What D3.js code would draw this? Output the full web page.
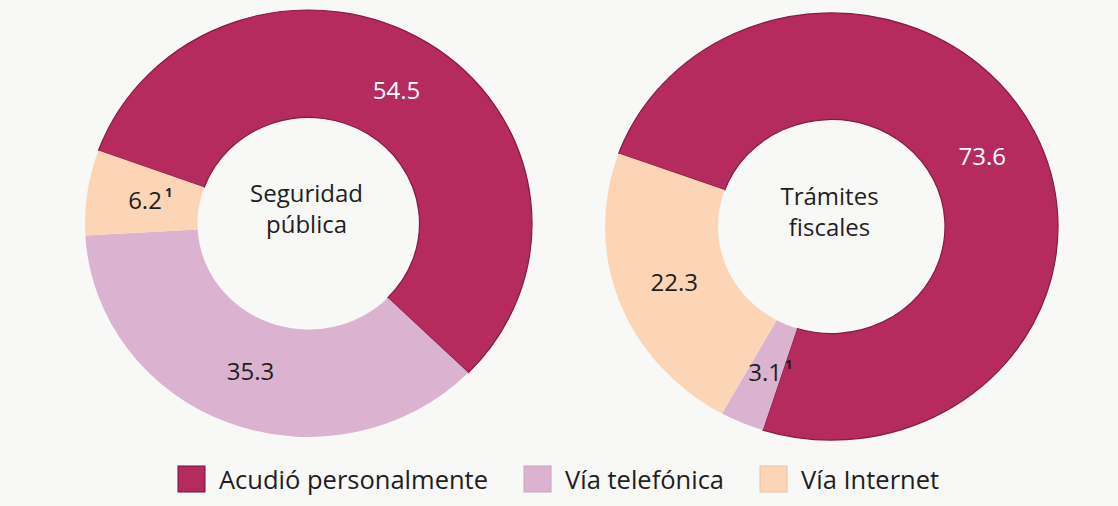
<!DOCTYPE html>
<html>
<head>
<meta charset="utf-8">
<script src="https://cdn.jsdelivr.net/npm/d3@7"></script>
<style>
  html, body { margin: 0; padding: 0; background: #f8f8f7; }
  svg { display: block; }
  text { font-family: "Open Sans", "Noto Sans", sans-serif; }
</style>
</head>
<body>
<svg id="chart" width="1118" height="506"></svg>
<script>
// Categories shared by both rings and the legend
const categories = ["Acudió personalmente", "Vía telefónica", "Vía Internet"];

// Ring titles (two lines each)
const seguridadTitle = ["Seguridad", "pública"];
const tramitesTitle = ["Trámites", "fiscales"];

// Percentages per category
const seguridadValues = [54.5, 35.3, 6.2];
const tramitesValues = [73.6, 3.1, 22.3];

// Footnote marks attached to some values
const seguridadNotes = ["", "", "1"];
const tramitesNotes = ["", "1", ""];

const palette = ["#b52b5e", "#dbb3d0", "#fcd5b6"];
const strokes = ["#861a44", "none", "none"];
const labelColors = ["#ffffff", "#1e1e1e", "#1e1e1e"];

const W = 1118, H = 506;
const svg = d3.select("#chart");
svg.append("rect").attr("width", W).attr("height", H).attr("fill", "#f8f8f7");

const color = d3.scaleOrdinal().domain(categories).range(palette);
const strokeOf = d3.scaleOrdinal().domain(categories).range(strokes);
const labelColor = d3.scaleOrdinal().domain(categories).range(labelColors);

const deg = Math.PI / 180;
const pie = d3.pie()
  .sort(null)
  .value(d => d.value)
  .startAngle(-70 * deg)
  .endAngle(290 * deg);

function drawRing(opts) {
  const { values, notes, title, cx, cy, rOuter, rInner, sy } = opts;
  const data = categories.map((c, i) => ({ cat: c, value: values[i], note: notes[i] }));
  const arcs = pie(data);
  const arc = d3.arc().innerRadius(rInner).outerRadius(rOuter);
  // labels sit a little inside the ring's mid radius
  const labelArc = d3.arc().innerRadius(rInner).outerRadius(rOuter - 4);

  const g = svg.append("g").attr("transform", `translate(${cx},${cy})`);
  const rings = g.append("g").attr("transform", `scale(1,${sy})`);

  rings.selectAll("path")
    .data(arcs)
    .join("path")
    .attr("d", arc)
    .attr("fill", d => color(d.data.cat))
    .attr("stroke", d => strokeOf(d.data.cat))
    .attr("stroke-width", 1.2)
    .attr("vector-effect", "non-scaling-stroke");

  // value labels at the slice centroids
  const labels = g.selectAll("g.val")
    .data(arcs)
    .join("g")
    .attr("class", "val")
    .attr("transform", d => {
      const [x, y] = labelArc.centroid(d);
      return `translate(${x},${y * sy})`;
    });

  labels.append("text")
    .attr("class", "num")
    .attr("text-anchor", "middle")
    .attr("dy", "0.36em")
    .attr("font-size", 24)
    .attr("font-weight", 500)
    .attr("fill", d => labelColor(d.data.cat))
    .text(d => d3.format(".1f")(d.data.value));

  labels.filter(d => d.data.note)
    .append("text")
    .attr("x", function () {
      const w = this.parentNode.querySelector("text.num").getComputedTextLength();
      return w / 2 + 3;
    })
    .attr("dy", "-0.25em")
    .attr("font-size", 13)
    .attr("font-weight", 700)
    .attr("fill", "#1e1e1e")
    .text(d => d.data.note);

  // ring title in the hole
  const t = g.append("text")
    .attr("text-anchor", "middle")
    .attr("font-size", 24)
    .attr("fill", "#1e1e1e");
  t.selectAll("tspan")
    .data(title)
    .join("tspan")
    .attr("x", -2)
    .attr("y", (d, i) => -22 + i * 31.5)
    .text(d => d);
}

drawRing({ values: seguridadValues, notes: seguridadNotes, title: seguridadTitle,
  cx: 308.5, cy: 223.5, rOuter: 223.5, rInner: 111, sy: 0.955 });
drawRing({ values: tramitesValues, notes: tramitesNotes, title: tramitesTitle,
  cx: 831.5, cy: 226.5, rOuter: 226.5, rInner: 113.5, sy: 0.943 });

// Legend
const legend = svg.append("g").attr("transform", "translate(178,466)");
const box = 27, gapText = 14, gapItem = 36;
let xPos = 0;
categories.forEach(c => {
  const item = legend.append("g").attr("transform", `translate(${xPos},0)`);
  item.append("rect")
    .attr("width", box).attr("height", 26)
    .attr("fill", color(c))
    .attr("stroke", c === categories[0] ? "#6e1234" : d3.color(color(c)).darker(0.25))
    .attr("stroke-width", 1);
  const txt = item.append("text")
    .attr("x", box + gapText)
    .attr("y", 23)
    .attr("font-size", 25.5)
    .attr("fill", "#1e1e1e")
    .text(c);
  xPos += box + gapText + txt.node().getComputedTextLength() + gapItem;
});
</script>
</body>
</html>
